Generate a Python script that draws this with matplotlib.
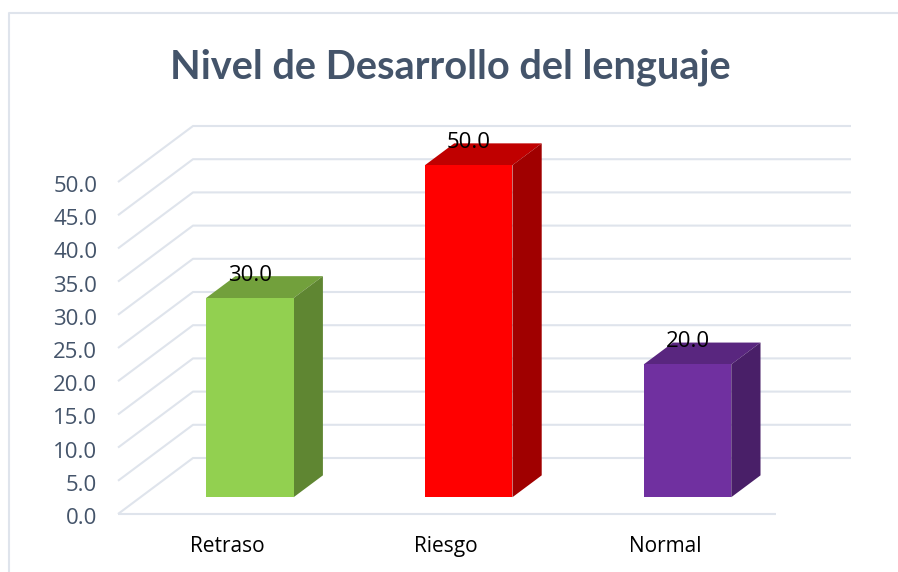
import matplotlib
matplotlib.use("Agg")
import matplotlib.pyplot as plt
from matplotlib.lines import Line2D
from matplotlib.patches import Polygon
from matplotlib.transforms import ScaledTranslation

categories = ["Retraso", "Riesgo", "Normal"]
values = [30.0, 50.0, 20.0]
front_colors = ["#92D050", "#FF0000", "#7030A0"]
top_colors = ["#72A03C", "#C00000", "#59267F"]
side_colors = ["#5F8632", "#A00000", "#491F68"]
y_ticks = [0, 5, 10, 15, 20, 25, 30, 35, 40, 45, 50]

W, H = 898, 572
TEXT = "#44546A"
GRID = "#DFE4EC"
FONT = "Open Sans"

# pixel geometry of the plot
left_px, right_px, base_px, top_px = 118, 851, 514, 125
unit_y = 6.64
unit_x = 218.8
depth_x = 75 / unit_x  # wall offset in category units
depth_y = 56 / unit_y  # wall offset in value units


def project(x, v, d):
    # oblique projection, d = 0 at the front of the floor, 1 at the wall
    return x + d * depth_x, v + d * depth_y


fig = plt.figure(figsize=(W / 100, H / 100), dpi=100)
# outer frame, only left and top show in the crop
fig.add_artist(Line2D([9 / W, 9 / W, 1], [0, 1 - 13 / H, 1 - 13 / H], color=GRID, lw=1.5))
ax = fig.add_axes([left_px / W, 1 - base_px / H, (right_px - left_px) / W, (base_px - top_px) / H])
ax.patch.set_alpha(0)
ax.set_xlim(-0.5, -0.5 + (right_px - left_px) / unit_x)
ax.set_ylim(0, (base_px - top_px) / unit_y)
for s in ax.spines.values():
    s.set_visible(False)

# gridlines: front edge, side wall, back wall
x0, x1 = -0.5, -0.5 + (776 - left_px) / unit_x
for v in y_ticks:
    xs = [x0, project(x0, v, 1)[0], project(x1, v, 1)[0]]
    ys = [v, v + depth_y, v + depth_y]
    ax.plot(xs, ys, color=GRID, lw=1.5, zorder=1, clip_on=False, solid_capstyle="butt")
ax.plot([x0, x1], [0, 0], color=GRID, lw=1.5, zorder=1, clip_on=False, solid_capstyle="butt")

# bars
bar_w = 0.4
d0, d1 = 0.30, 0.69
for i, v in enumerate(values):
    l, r = i - bar_w / 2, i + bar_w / 2
    a = project(l, 0, d0)
    b = project(r, 0, d0)
    c = project(r, v, d0)
    e = project(l, v, d0)
    f = project(l, v, d1)
    g = project(r, v, d1)
    h = project(r, 0, d1)
    ax.add_patch(Polygon([e, f, g, c], fc=top_colors[i], ec="none", zorder=3, clip_on=False))
    ax.add_patch(Polygon([b, c, g, h], fc=side_colors[i], ec="none", zorder=3, clip_on=False))
    ax.add_patch(Polygon([a, b, c, e], fc=front_colors[i], ec="none", zorder=4, clip_on=False))
    cx, cy = project(i, v, d0)
    ax.annotate(f"{v:.1f}", (cx, cy), xytext=(0, 22.5 * 0.72), textcoords="offset points", ha="center",
                va="center", fontsize=16, color="black", family=FONT, zorder=5)

ax.set_yticks(y_ticks)
ax.set_yticklabels([f"{v:.1f}" for v in y_ticks], family=FONT, fontsize=16, color=TEXT, va="center_baseline")
ax.set_xticks(range(len(categories)))
ax.set_xticklabels(categories, family=FONT, fontsize=15, color="black")
ax.tick_params(axis="y", length=0, pad=15)
ax.tick_params(axis="x", length=0, pad=16)
# nudge the value labels down 2 px
nudge = ScaledTranslation(0, -2 / 100, fig.dpi_scale_trans)
for t in ax.get_yticklabels():
    t.set_transform(t.get_transform() + nudge)

fig.text(450 / W, 1 - 64 / H, "Nivel de Desarrollo del lenguaje", ha="center", va="center_baseline",
         family="Lato", fontweight="bold", fontsize=28.6, color=TEXT)

fig.savefig("out.png", dpi=100)
